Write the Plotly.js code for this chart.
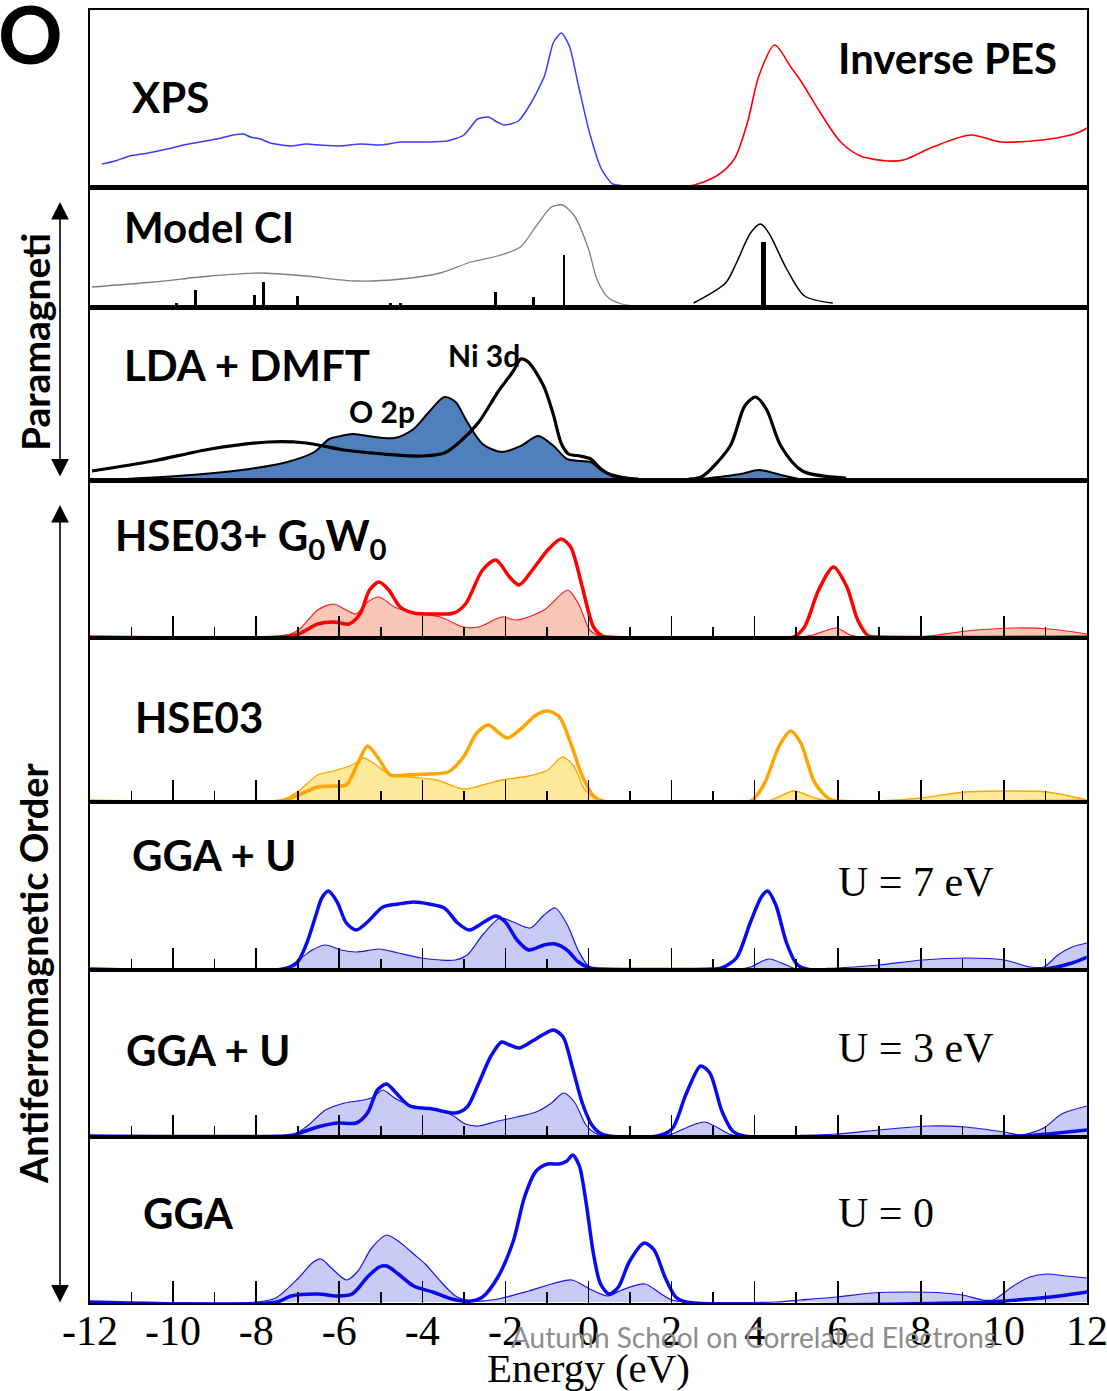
<!DOCTYPE html>
<html>
<head>
<meta charset="utf-8">
<script src="https://cdn.plot.ly/plotly-3.0.1.min.js"></script>
<style>html,body{margin:0;padding:0;background:#fff;}#chart{width:1107px;height:1391px;}</style>
</head>
<body>
<div id="chart"></div>
<script>
// ---------- DATA (energies in eV, intensities in arbitrary units) ----------
// Panel 1: experiment
const xpsE = [-11.71,-11.4,-11.04,-10.6,-10.14,-9.75,-9.35,-8.95,-8.55,-8.3,-8.14,-7.9,-7.66,-7.18,-6.8,-6.46,-6.0,-5.49,-5.0,-4.53,-3.95,-3.40,-3.0,-2.67,-2.41,-2.2,-2.02,-1.69,-1.37,-1.06,-0.84,-0.65,-0.46,-0.24,0.02,0.31,0.58,0.9];
const xpsI = [22,25,30,33,37,41,44,47,51,52,49,47,43,40,42,41,40,42,41,44,44,45,51,67,69,64,61,65,84,110,144,153,140,100,54,17,2,0];
const ipesE = [0.58,1.5,2.43,3.08,3.51,3.83,4.1,4.48,4.87,5.08,5.57,6.07,6.55,7.2,7.58,8.29,9.2,9.93,11.1,11.76,12.0];
const ipesI = [0,0,0,10,27,64,110,141,119,107,74,44,30,25,26,39,51,44,47,53,58];

// Panel 2: Model CI
const ciE = [-11.95,-10.48,-9.1,-7.9,-6.8,-5.6,-4.5,-3.57,-2.83,-2.19,-1.64,-1.26,-0.89,-0.63,-0.34,0.0,0.2,0.46,0.8,1.15];
const ciI = [19,24,30,33,30,25,27,33,44,50,59,80,99,101,90,57,27,9,2,0];
const ciInvE = [2.53,3.3,3.56,3.9,4.14,4.34,4.77,5.2,5.88];
const ciInvI = [3,23,43,73,82,73,37,10,3];
const ciStickE = [-11.6,-10.8,-10.48,-9.91,-9.45,-8.05,-7.82,-7.0,-4.76,-4.53,-2.23,-1.32,-0.59];
const ciStickH = [1.5,1.5,1.5,3,16,11,24,10,3,3,14,9,51];
const ciInvStickE = [4.22];
const ciInvStickH = [64];

// Panel 3: LDA + DMFT
const ldaNiE = [-11.95,-10.48,-9.1,-7.71,-6.8,-5.88,-4.95,-4.02,-3.47,-3.1,-2.64,-2.18,-1.81,-1.63,-1.45,-1.08,-0.85,-0.65,-0.48,-0.2,0.05,0.3,0.6,1.0,1.2];
const ldaNiI = [8,18,30,37,36,29,25,23,26,37,57,87,108,120,117,93,65,35,25,23,20,10,3,0.5,0];
const ldaOE = [-11.13,-9.56,-8.17,-7.25,-6.6,-6.24,-5.96,-5.69,-5.32,-4.67,-4.21,-3.84,-3.47,-3.2,-2.92,-2.55,-2.09,-1.63,-1.21,-0.84,-0.52,-0.2,0.05,0.38,0.82,1.16];
const ldaOI = [0,4,10,17,27,40,43,45,43,41,50,67,82,77,57,35,27,33,43,33,20,18,17,7,2,0];
const ldaInvE = [2.41,2.72,3.41,3.76,4.02,4.28,4.63,5.15,6.2];
const ldaInvI = [0,2,33,73,82,70,33,8,1];
const ldaInvOE = [2.72,3.66,4.1,4.63,5.06];
const ldaInvOI = [0,5,9,4,0];

// Panel 4: HSE03 + G0W0
const g0wE = [-12,-7.44,-6.98,-6.52,-6.14,-5.77,-5.5,-5.27,-5.04,-4.81,-4.53,-4.21,-3.75,-3.24,-2.96,-2.55,-2.23,-1.9,-1.67,-1.35,-0.98,-0.66,-0.43,-0.15,0.12,0.34,0.5,4.94,5.2,5.54,5.9,6.22,6.48,6.74,7.0,12];
const g0wI = [0,0,3,13,15,13,23,47,55,47,30,24,23,24,33,67,77,60,52,67,87,98,90,50,10,1,0,0,10,47,70,50,17,1,0,0];
const g0wPE = [-12,-7.44,-6.98,-6.52,-6.14,-5.83,-5.6,-5.32,-5.04,-4.67,-4.21,-3.57,-3.01,-2.64,-2.09,-1.72,-1.07,-0.5,-0.24,0.03,0.2,0.5,5.0,5.4,5.97,6.3,6.6,8.0,9.1,10.26,11.1,12];
const g0wPI = [0,0,7,27,33,27,23,35,40,30,24,20,10,10,20,17,27,47,33,7,2,0,0,2,9,2,0,0,6,9,8,3];

// Panel 5: HSE03
const hseE = [-12,-7.44,-6.98,-6.52,-6.14,-5.83,-5.55,-5.32,-5.08,-4.77,-4.39,-3.84,-3.38,-3.01,-2.69,-2.41,-2.18,-1.95,-1.63,-1.26,-0.98,-0.7,-0.43,-0.15,0.12,0.35,3.9,4.24,4.59,4.87,5.11,5.45,5.8,6.0,12];
const hseI = [0,0,6,14,15,16,38,55,44,26,26,27,29,44,68,76,69,63,72,86,90,84,58,25,5,0,0,18,55,70,58,18,2,0,0];
const hsePE = [-12,-7.44,-6.98,-6.52,-6.14,-5.69,-5.41,-5.18,-4.77,-4.3,-3.66,-3.01,-2.55,-2.09,-1.44,-0.98,-0.63,-0.34,-0.1,0.15,0.4,4.3,4.94,5.45,5.8,7.0,8.03,9.06,10.05,11.04,12];
const hsePI = [0,0,10,26,30,36,43,38,26,24,21,12,16,21,25,31,44,34,12,3,0,0,10,3,0,0,3,9,10,9,1];

// Panel 6: GGA + U, U = 7 eV
const u7E = [-12,-7.36,-7.02,-6.8,-6.56,-6.42,-6.26,-6.05,-5.83,-5.59,-5.32,-4.95,-4.58,-4.21,-3.84,-3.47,-3.15,-2.87,-2.55,-2.23,-2.0,-1.72,-1.44,-1.07,-0.8,-0.52,-0.24,0.03,0.3,3.0,3.21,3.56,3.9,4.16,4.31,4.51,4.76,5.01,5.25,11.0,11.64,12];
const u7I = [0,0,6,24,54,71,78,67,46,39,47,62,65,67,65,61,46,39,46,53,47,29,19,24,25,19,7,1,0,0,1,11,47,72,78,64,27,5,0,0,6,12];
const u7PE = [-12,-7.36,-6.98,-6.65,-6.33,-5.96,-5.59,-5.04,-4.58,-4.02,-3.57,-3.2,-2.92,-2.55,-2.13,-1.81,-1.4,-1.07,-0.8,-0.52,-0.24,0.0,0.3,3.6,3.9,4.34,4.76,5.01,5.97,7.0,8.03,9.06,10.01,10.62,10.96,11.3,11.64,12];
const u7PI = [0,0,9,19,24,19,17,20,16,11,9,9,14,34,51,47,41,54,61,45,18,3,0,0,2,10,4,0,1,4,9,11,9,2,2,14,22,26];

// Panel 7: GGA + U, U = 3 eV
const u3E = [-12,-7.3,-7.1,-6.52,-6.05,-5.59,-5.32,-5.08,-4.86,-4.63,-4.3,-3.75,-3.2,-2.92,-2.64,-2.36,-2.09,-1.9,-1.67,-1.35,-1.07,-0.84,-0.61,-0.39,-0.15,0.08,0.27,0.5,1.66,2.01,2.35,2.7,2.92,3.21,3.47,3.75,10.4,11.3,12];
const u3I = [0,0,1,9,13,13,23,46,52,43,30,27,23,29,53,79,94,91,88,95,102,106,99,69,33,11,3,0,0,7,42,70,63,25,5,0,0,3,6];
const u3PE = [-12,-7.2,-6.8,-6.33,-5.87,-5.41,-5.18,-4.95,-4.67,-4.3,-3.75,-3.29,-2.96,-2.64,-2.18,-1.72,-1.26,-0.89,-0.6,-0.34,-0.06,0.15,0.4,1.8,2.01,2.79,3.39,3.7,5.97,7.0,8.2,9.06,10.0,10.43,10.96,11.39,12];
const u3PI = [0,0,9,26,33,36,39,46,38,31,27,21,12,10,15,19,24,33,43,34,11,3,0,0,2,14,2,0,2,6,10,9,4,1,8,22,30];

// Panel 8: GGA, U = 0
const ggaE = [-12,-7.5,-7.16,-6.52,-6.05,-5.69,-5.32,-5.04,-4.86,-4.58,-4.21,-3.75,-3.29,-2.83,-2.55,-2.18,-1.81,-1.54,-1.26,-0.98,-0.71,-0.52,-0.38,-0.22,-0.06,0.12,0.29,0.5,0.72,0.98,1.34,1.58,1.84,2.1,2.35,9.7,10.0,11.13,12];
const ggaI = [0,0,6,8,6,8,25,35,36,28,16,10,3,1,5,25,61,105,131,138,138,141,147,136,100,48,18,8,15,40,59,52,25,5,0,0,1,5,10];
const ggaPE = [-12,-8.0,-7.53,-6.98,-6.65,-6.44,-6.19,-5.82,-5.55,-5.22,-4.86,-4.49,-4.21,-3.93,-3.57,-3.2,-2.83,-2.18,-1.44,-0.89,-0.4,0.03,0.46,0.8,1.36,1.75,2.0,2.35,4.5,5.1,5.97,6.83,7.69,8.55,9.0,9.49,9.74,10.19,10.62,11.04,11.5,12];
const ggaPI = [0,0,4,24,39,43,34,22,31,54,67,58,48,38,21,6,1,3,11,18,22,13,6,12,18,8,2,0,0,2,5,9,10,9,7,2,2,15,25,28,26,24];

// Tick labels
const tickVals = [-12,-10,-8,-6,-4,-2,0,2,4,6,8,10,12];
const tickText = ["-12","-10","-8","-6","-4","-2","0","2","4","6","8","10","12"];
const minorTickVals = [-11,-9,-7,-5,-3,-1,1,3,5,7,9,11];

// Panel labels
const panelLabels = ["XPS","Model CI","LDA + DMFT","HSE03+ G<sub>0</sub>W<sub>0</sub>","HSE03","GGA + U","GGA + U","GGA"];
const uLabels = ["U = 7 eV","U = 3 eV","U = 0"];

// ---------- LAYOUT GEOMETRY ----------
const W = 1107, H = 1391, ML = 90, MR = 20, MT = 10, MB = 88;
const PW = W - ML - MR, PH = H - MT - MB;
const panelEdges = [10,187,307,480,638,802,970,1137,1303];
const px = v => (v - ML) / PW;
const py = v => (H - MB - v) / PH;

const BLACK = '#000000';
const SANS = 'Lato, "Open Sans", sans-serif';
const SERIF = '"Liberation Serif", "Times New Roman", serif';

const traces = [];
function ln(x, y, p, color, width, fillcolor, smooth) {
  const t = {x: x, y: y, xaxis: 'x' + p, yaxis: 'y' + p, type: 'scatter', mode: 'lines',
    line: {color: color, width: width, shape: 'spline', smoothing: smooth || 0.8},
    hoverinfo: 'skip', showlegend: false};
  if (fillcolor) { t.fill = 'tozeroy'; t.fillcolor = fillcolor; }
  traces.push(t);
}
function sticks(x, y, p, w) {
  traces.push({x: x, y: y, xaxis: 'x' + p, yaxis: 'y' + p, type: 'bar', width: w,
    marker: {color: BLACK, line: {width: 0}}, hoverinfo: 'skip', showlegend: false});
}

// Panel 1
ln(xpsE, xpsI, 1, '#3b3bff', 1.5, null, 0.6);
ln(ipesE, ipesI, 1, '#ff0000', 1.6);
// Panel 2
ln(ciE, ciI, 2, '#7f7f7f', 1.3);
ln(ciInvE, ciInvI, 2, BLACK, 1.5);
sticks(ciStickE, ciStickH, 2, 0.07);
sticks(ciInvStickE, ciInvStickH, 2, 0.12);
// Panel 3
ln(ldaOE, ldaOI, 3, BLACK, 2, '#4f7fbd');
ln(ldaInvOE, ldaInvOI, 3, BLACK, 2, '#4f7fbd');
ln(ldaNiE, ldaNiI, 3, BLACK, 3.2);
ln(ldaInvE, ldaInvI, 3, BLACK, 3.2);
// Panel 4
ln(g0wPE, g0wPI, 4, '#ff1a1a', 1.2, 'rgba(246,160,135,0.6)');
ln(g0wE, g0wI, 4, '#ff0000', 3.5);
// Panel 5
ln(hsePE, hsePI, 5, '#ffa500', 1.3, 'rgba(253,222,110,0.7)');
ln(hseE, hseI, 5, '#ffa500', 3.5);
// Panel 6
ln(u7PE, u7PI, 6, '#1515f0', 1.2, 'rgba(150,150,240,0.5)');
ln(u7E, u7I, 6, '#0a0af0', 3.5);
// Panel 7
ln(u3PE, u3PI, 7, '#1515f0', 1.2, 'rgba(150,150,240,0.5)');
ln(u3E, u3I, 7, '#0a0af0', 3.5);
// Panel 8
ln(ggaPE, ggaPI, 8, '#1515f0', 1.2, 'rgba(150,150,240,0.5)');
ln(ggaE, ggaI, 8, '#0a0af0', 3.5);

const layout = {
  width: W, height: H,
  margin: {l: ML, r: MR, t: MT, b: MB, pad: 0},
  paper_bgcolor: '#ffffff', plot_bgcolor: '#ffffff',
  showlegend: false, barmode: 'overlay', bargap: 0,
  font: {family: SANS, color: BLACK},
  annotations: [], shapes: []
};

for (let p = 1; p <= 8; p++) {
  const top = panelEdges[p - 1], bot = panelEdges[p];
  const hpx = bot - top;
  const withTicks = p >= 4;
  layout['xaxis' + p] = {
    domain: [0, 1], anchor: 'y' + p, range: [-12, 12], fixedrange: true,
    showgrid: false, zeroline: false, showline: true, linecolor: BLACK,
    linewidth: p <= 3 ? 2.5 : 2, mirror: true,
    ticks: withTicks ? 'inside' : '', ticklen: 22, tickwidth: 1.6, tickcolor: BLACK,
    tickmode: 'array', tickvals: tickVals, ticktext: tickText,
    showticklabels: p === 8, ticklabeloverflow: 'allow', ticklabelstandoff: -10,
    tickfont: {family: SERIF, size: 42, color: BLACK},
    minor: withTicks ? {ticks: 'inside', ticklen: 11, tickwidth: 1.6, tickcolor: BLACK,
                        tickmode: 'array', tickvals: minorTickVals} : {ticks: ''},
    automargin: false
  };
  if (p === 8) {
    layout['xaxis' + p].title = {text: 'Energy (eV)', font: {family: SERIF, size: 41, color: BLACK}, standoff: 10};
  }
  layout['yaxis' + p] = {
    domain: [py(bot), py(top)], anchor: 'x' + p, range: [-1, hpx - 1], fixedrange: true,
    showgrid: false, zeroline: false, showline: true, linecolor: BLACK, linewidth: 2,
    mirror: true, ticks: '', showticklabels: false, automargin: false
  };
}

function label(text, x, y, size, opts) {
  layout.annotations.push(Object.assign({
    text: text, xref: 'paper', yref: 'paper', x: px(x), y: py(y),
    xanchor: 'left', yanchor: 'middle', showarrow: false,
    font: {family: SANS, size: size, color: BLACK, weight: 700}
  }, opts || {}));
}

// panel titles
const labelPos = [[130,97],[122,227],[122,365],[113,538],[133,717],[130,855],[124,1050],[141,1213]];
panelLabels.forEach((t, i) => label(t, labelPos[i][0], labelPos[i][1], 42));
label('Inverse PES', 836, 58, 42);
label('Ni 3d', 446, 355, 30);
label('O 2p', 347, 411, 30);
const uPos = [[836,882],[836,1048],[836,1213]];
uLabels.forEach((t, i) => label(t, uPos[i][0], uPos[i][1], 42, {font: {family: SERIF, size: 42, color: BLACK}}));

// big panel letter
label('O', 30, 33, 80, {xanchor: 'center'});
// side labels
label('Paramagneti', 35, 342, 39, {xanchor: 'center', textangle: -90});
label('Antiferromagnetic Order', 33, 973, 38, {xanchor: 'center', textangle: -90});
// watermark
label('Autumn School on Correlated Electrons', 753, 1337, 28,
  {xanchor: 'center', font: {family: SANS, size: 28, color: '#8c8c8c', weight: 400}});

// side arrows
function arrow(x, y1, y2) {
  layout.annotations.push({
    xref: 'paper', yref: 'paper', x: px(x), y: py(y1), ax: 0, ay: y2 - y1,
    axref: 'pixel', ayref: 'pixel', text: '', showarrow: true,
    arrowhead: 2, arrowside: 'end+start', arrowsize: 2.2, arrowwidth: 1.6, arrowcolor: BLACK,
    standoff: 0, startstandoff: 0
  });
}
arrow(60, 202, 478);
arrow(60, 505, 1304);

Plotly.newPlot('chart', traces, layout, {staticPlot: true, displayModeBar: false});
</script>
</body>
</html>
